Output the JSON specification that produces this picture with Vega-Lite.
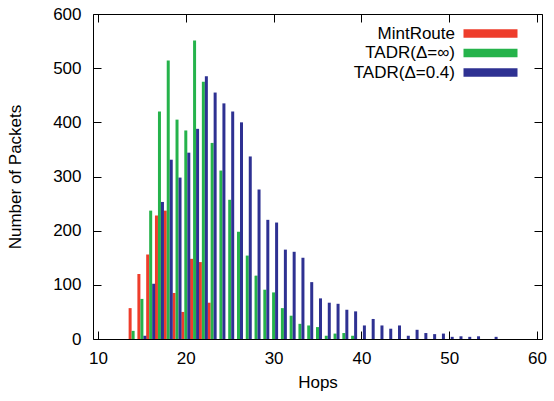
{
  "$schema": "https://vega.github.io/schema/vega-lite/v6.json",
  "width": 449,
  "height": 325,
  "autosize": {"type": "none"},
  "padding": {"left": 93, "top": 14, "right": 12, "bottom": 62},
  "config": {
    "view": {"stroke": "#000000", "strokeWidth": 1},
    "font": "Liberation Sans",
    "axis": {
      "grid": false,
      "domain": false,
      "tickColor": "#000000",
      "tickSize": -8,
      "tickWidth": 1,
      "labelColor": "#000000",
      "labelFontSize": 17,
      "titleFontSize": 17,
      "titleFontWeight": "normal",
      "titleColor": "#000000"
    },
    "legend": {"labelFont": "Liberation Sans"}
  },
  "data": {
    "values": [
      {"hop": 14, "series": "MintRoute", "packets": 57},
      {"hop": 15, "series": "MintRoute", "packets": 120},
      {"hop": 16, "series": "MintRoute", "packets": 156},
      {"hop": 17, "series": "MintRoute", "packets": 228},
      {"hop": 18, "series": "MintRoute", "packets": 237},
      {"hop": 19, "series": "MintRoute", "packets": 85},
      {"hop": 20, "series": "MintRoute", "packets": 50},
      {"hop": 21, "series": "MintRoute", "packets": 148},
      {"hop": 22, "series": "MintRoute", "packets": 142},
      {"hop": 23, "series": "MintRoute", "packets": 67},
      {"hop": 14, "series": "TADR(Δ=∞)", "packets": 15},
      {"hop": 15, "series": "TADR(Δ=∞)", "packets": 74},
      {"hop": 16, "series": "TADR(Δ=∞)", "packets": 237},
      {"hop": 17, "series": "TADR(Δ=∞)", "packets": 420},
      {"hop": 18, "series": "TADR(Δ=∞)", "packets": 514},
      {"hop": 19, "series": "TADR(Δ=∞)", "packets": 405},
      {"hop": 20, "series": "TADR(Δ=∞)", "packets": 385},
      {"hop": 21, "series": "TADR(Δ=∞)", "packets": 551},
      {"hop": 22, "series": "TADR(Δ=∞)", "packets": 475},
      {"hop": 23, "series": "TADR(Δ=∞)", "packets": 362},
      {"hop": 24, "series": "TADR(Δ=∞)", "packets": 311},
      {"hop": 25, "series": "TADR(Δ=∞)", "packets": 257},
      {"hop": 26, "series": "TADR(Δ=∞)", "packets": 198},
      {"hop": 27, "series": "TADR(Δ=∞)", "packets": 154},
      {"hop": 28, "series": "TADR(Δ=∞)", "packets": 117},
      {"hop": 29, "series": "TADR(Δ=∞)", "packets": 91},
      {"hop": 30, "series": "TADR(Δ=∞)", "packets": 86},
      {"hop": 31, "series": "TADR(Δ=∞)", "packets": 57},
      {"hop": 32, "series": "TADR(Δ=∞)", "packets": 43},
      {"hop": 33, "series": "TADR(Δ=∞)", "packets": 28},
      {"hop": 34, "series": "TADR(Δ=∞)", "packets": 25},
      {"hop": 35, "series": "TADR(Δ=∞)", "packets": 22},
      {"hop": 36, "series": "TADR(Δ=∞)", "packets": 6},
      {"hop": 37, "series": "TADR(Δ=∞)", "packets": 10},
      {"hop": 38, "series": "TADR(Δ=∞)", "packets": 11},
      {"hop": 39, "series": "TADR(Δ=∞)", "packets": 6},
      {"hop": 15, "series": "TADR(Δ=0.4)", "packets": 6},
      {"hop": 16, "series": "TADR(Δ=0.4)", "packets": 102},
      {"hop": 17, "series": "TADR(Δ=0.4)", "packets": 253},
      {"hop": 18, "series": "TADR(Δ=0.4)", "packets": 331},
      {"hop": 19, "series": "TADR(Δ=0.4)", "packets": 298},
      {"hop": 20, "series": "TADR(Δ=0.4)", "packets": 344},
      {"hop": 21, "series": "TADR(Δ=0.4)", "packets": 388},
      {"hop": 22, "series": "TADR(Δ=0.4)", "packets": 485},
      {"hop": 23, "series": "TADR(Δ=0.4)", "packets": 455},
      {"hop": 24, "series": "TADR(Δ=0.4)", "packets": 435},
      {"hop": 25, "series": "TADR(Δ=0.4)", "packets": 420},
      {"hop": 26, "series": "TADR(Δ=0.4)", "packets": 400},
      {"hop": 27, "series": "TADR(Δ=0.4)", "packets": 337},
      {"hop": 28, "series": "TADR(Δ=0.4)", "packets": 276},
      {"hop": 29, "series": "TADR(Δ=0.4)", "packets": 220},
      {"hop": 30, "series": "TADR(Δ=0.4)", "packets": 215},
      {"hop": 31, "series": "TADR(Δ=0.4)", "packets": 165},
      {"hop": 32, "series": "TADR(Δ=0.4)", "packets": 161},
      {"hop": 33, "series": "TADR(Δ=0.4)", "packets": 150},
      {"hop": 34, "series": "TADR(Δ=0.4)", "packets": 105},
      {"hop": 35, "series": "TADR(Δ=0.4)", "packets": 75},
      {"hop": 36, "series": "TADR(Δ=0.4)", "packets": 67},
      {"hop": 37, "series": "TADR(Δ=0.4)", "packets": 65},
      {"hop": 38, "series": "TADR(Δ=0.4)", "packets": 54},
      {"hop": 39, "series": "TADR(Δ=0.4)", "packets": 51},
      {"hop": 40, "series": "TADR(Δ=0.4)", "packets": 25},
      {"hop": 41, "series": "TADR(Δ=0.4)", "packets": 37},
      {"hop": 42, "series": "TADR(Δ=0.4)", "packets": 25},
      {"hop": 43, "series": "TADR(Δ=0.4)", "packets": 19},
      {"hop": 44, "series": "TADR(Δ=0.4)", "packets": 25},
      {"hop": 45, "series": "TADR(Δ=0.4)", "packets": 6},
      {"hop": 46, "series": "TADR(Δ=0.4)", "packets": 17},
      {"hop": 47, "series": "TADR(Δ=0.4)", "packets": 11},
      {"hop": 48, "series": "TADR(Δ=0.4)", "packets": 9},
      {"hop": 49, "series": "TADR(Δ=0.4)", "packets": 10},
      {"hop": 50, "series": "TADR(Δ=0.4)", "packets": 4},
      {"hop": 51, "series": "TADR(Δ=0.4)", "packets": 5},
      {"hop": 52, "series": "TADR(Δ=0.4)", "packets": 4},
      {"hop": 53, "series": "TADR(Δ=0.4)", "packets": 5},
      {"hop": 55, "series": "TADR(Δ=0.4)", "packets": 4}
    ]
  },
  "layer": [
    {
      "transform": [{"filter": {"field": "series", "equal": "MintRoute"}}],
      "mark": {"type": "bar", "width": 3, "xOffset": -3},
      "encoding": {
        "x": {
          "field": "hop", "type": "quantitative",
          "scale": {"domain": [10, 60], "nice": false, "zero": false},
          "axis": {"orient": "bottom", "values": [10, 20, 30, 40, 50, 60], "title": "Hops", "labelPadding": 19, "titlePadding": 8}
        },
        "y": {
          "field": "packets", "type": "quantitative",
          "scale": {"domain": [0, 600], "nice": false},
          "axis": {"orient": "left", "values": [0, 100, 200, 300, 400, 500, 600], "title": "Number of Packets", "labelPadding": 20, "titlePadding": 28}
        },
        "color": {
          "field": "series", "type": "nominal",
          "scale": {"domain": ["MintRoute", "TADR(Δ=∞)", "TADR(Δ=0.4)"], "range": ["#EE3D2B", "#25B34B", "#2E3192"]},
          "legend": {
            "orient": "none", "legendX": 389, "legendY": 11, "title": null, "padding": 0,
            "symbolType": "M-6.75,-1.07L6.75,-1.07L6.75,1.07L-6.75,1.07Z", "symbolSize": 64,
            "symbolStrokeWidth": 0, "symbolOpacity": 1, "symbolOffset": 0,
            "labelAlign": "right", "labelOffset": -44, "labelFontSize": 17, "labelColor": "#000000",
            "rowPadding": 1.5
          }
        }
      }
    },
    {
      "transform": [{"filter": {"field": "series", "equal": "TADR(Δ=∞)"}}],
      "mark": {"type": "bar", "width": 3, "xOffset": 0},
      "encoding": {
        "x": {
          "field": "hop", "type": "quantitative",
          "scale": {"domain": [10, 60], "nice": false, "zero": false},
          "axis": {"orient": "top", "values": [10, 20, 30, 40, 50, 60], "title": null, "labels": false}
        },
        "y": {
          "field": "packets", "type": "quantitative",
          "scale": {"domain": [0, 600], "nice": false},
          "axis": {"orient": "right", "values": [0, 100, 200, 300, 400, 500, 600], "title": null, "labels": false}
        },
        "color": {"field": "series", "type": "nominal"}
      }
    },
    {
      "transform": [{"filter": {"field": "series", "equal": "TADR(Δ=0.4)"}}],
      "mark": {"type": "bar", "width": 3, "xOffset": 3},
      "encoding": {
        "x": {"field": "hop", "type": "quantitative", "scale": {"domain": [10, 60], "nice": false, "zero": false}, "axis": null},
        "y": {"field": "packets", "type": "quantitative", "scale": {"domain": [0, 600], "nice": false}, "axis": null},
        "color": {"field": "series", "type": "nominal"}
      }
    }
  ],
  "resolve": {"axis": {"x": "independent", "y": "independent"}}
}
